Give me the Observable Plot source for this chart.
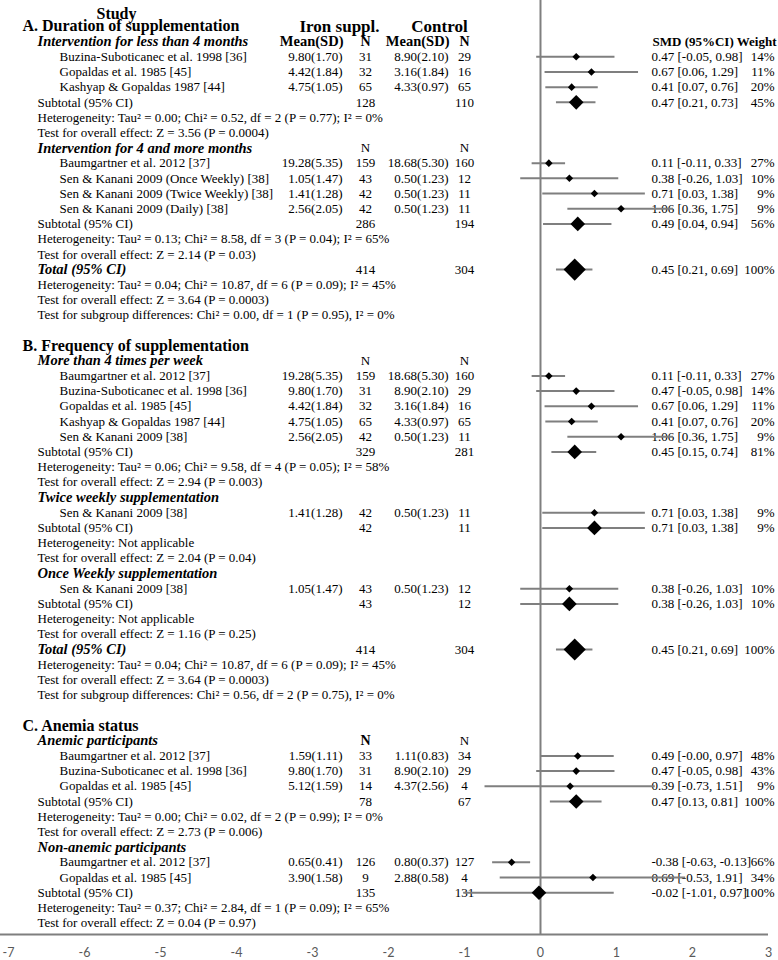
<!DOCTYPE html>
<html><head><meta charset="utf-8">
<script src="https://cdn.jsdelivr.net/npm/d3@7"></script>
<script src="https://cdn.jsdelivr.net/npm/@observablehq/plot@0.6"></script>
<style>body{margin:0;background:#fff}</style>
</head><body><div id="chart"></div>
<script>
// ---------- DATA ----------
const rowLabels = [
 "A. Duration of supplementation",
 "Intervention for less than 4 months",
 "Buzina-Suboticanec et al. 1998 [36]",
 "Gopaldas et al. 1985 [45]",
 "Kashyap & Gopaldas 1987 [44]",
 "Subtotal (95% CI)",
 "Heterogeneity: Tau² = 0.00; Chi² = 0.52, df = 2 (P = 0.77); I² = 0%",
 "Test for overall effect: Z = 3.56 (P = 0.0004)",
 "Intervention for 4 and more months",
 "Baumgartner et al. 2012 [37]",
 "Sen & Kanani 2009 (Once Weekly) [38]",
 "Sen & Kanani 2009 (Twice Weekly) [38]",
 "Sen & Kanani 2009 (Daily) [38]",
 "Subtotal (95% CI)",
 "Heterogeneity: Tau² = 0.13; Chi² = 8.58, df = 3 (P = 0.04); I² = 65%",
 "Test for overall effect: Z = 2.14 (P = 0.03)",
 "Total (95% CI)",
 "Heterogeneity: Tau² = 0.04; Chi² = 10.87, df = 6 (P = 0.09); I² = 45%",
 "Test for overall effect: Z = 3.64 (P = 0.0003)",
 "Test for subgroup differences: Chi² = 0.00, df = 1 (P = 0.95), I² = 0%",
 "",
 "B. Frequency of supplementation",
 "More than 4 times per week",
 "Baumgartner et al. 2012 [37]",
 "Buzina-Suboticanec et al. 1998 [36]",
 "Gopaldas et al. 1985 [45]",
 "Kashyap & Gopaldas 1987 [44]",
 "Sen & Kanani 2009 [38]",
 "Subtotal (95% CI)",
 "Heterogeneity: Tau² = 0.06; Chi² = 9.58, df = 4 (P = 0.05); I² = 58%",
 "Test for overall effect: Z = 2.94 (P = 0.003)",
 "Twice weekly supplementation",
 "Sen & Kanani 2009 [38]",
 "Subtotal (95% CI)",
 "Heterogeneity: Not applicable",
 "Test for overall effect: Z = 2.04 (P = 0.04)",
 "Once Weekly supplementation",
 "Sen & Kanani 2009 [38]",
 "Subtotal (95% CI)",
 "Heterogeneity: Not applicable",
 "Test for overall effect: Z = 1.16 (P = 0.25)",
 "Total (95% CI)",
 "Heterogeneity: Tau² = 0.04; Chi² = 10.87, df = 6 (P = 0.09); I² = 45%",
 "Test for overall effect: Z = 3.64 (P = 0.0003)",
 "Test for subgroup differences: Chi² = 0.56, df = 2 (P = 0.75), I² = 0%",
 "",
 "C. Anemia status",
 "Anemic participants",
 "Baumgartner et al. 2012 [37]",
 "Buzina-Suboticanec et al. 1998 [36]",
 "Gopaldas et al. 1985 [45]",
 "Subtotal (95% CI)",
 "Heterogeneity: Tau² = 0.00; Chi² = 0.02, df = 2 (P = 0.99); I² = 0%",
 "Test for overall effect: Z = 2.73 (P = 0.006)",
 "Non-anemic participants",
 "Baumgartner et al. 2012 [37]",
 "Gopaldas et al. 1985 [45]",
 "Subtotal (95% CI)",
 "Heterogeneity: Tau² = 0.37; Chi² = 2.84, df = 1 (P = 0.09); I² = 65%",
 "Test for overall effect: Z = 0.04 (P = 0.97)"
];
const rowKinds = [
 "section","group","study","study","study","sub","note","note",
 "group","study","study","study","study","sub","note","note",
 "total","note","note","note","blank",
 "section","group","study","study","study","study","study","sub","note","note",
 "group","study","sub","note","note",
 "group","study","sub","note","note",
 "total","note","note","note","blank",
 "section","group","study","study","study","sub","note","note",
 "group","study","study","sub","note","note"
];
// effect rows (studies, subtotals, totals) in order of appearance
const ironMean = [9.80,4.42,4.75,null, 19.28,1.05,1.41,2.56,null, null, 19.28,9.80,4.42,4.75,2.56,null, 1.41,null, 1.05,null, null, 1.59,9.80,5.12,null, 0.65,3.90,null];
const ironSD   = [1.70,1.84,1.05,null, 5.35,1.47,1.28,2.05,null, null, 5.35,1.70,1.84,1.05,2.05,null, 1.28,null, 1.47,null, null, 1.11,1.70,1.59,null, 0.41,1.58,null];
const ironN    = [31,32,65,128, 159,43,42,42,286, 414, 159,31,32,65,42,329, 42,42, 43,43, 414, 33,31,14,78, 126,9,135];
const ctrlMean = [8.90,3.16,4.33,null, 18.68,0.50,0.50,0.50,null, null, 18.68,8.90,3.16,4.33,0.50,null, 0.50,null, 0.50,null, null, 1.11,8.90,4.37,null, 0.80,2.88,null];
const ctrlSD   = [2.10,1.84,0.97,null, 5.30,1.23,1.23,1.23,null, null, 5.30,2.10,1.84,0.97,1.23,null, 1.23,null, 1.23,null, null, 0.83,2.10,2.56,null, 0.37,0.58,null];
const ctrlN    = [29,16,65,110, 160,12,11,11,194, 304, 160,29,16,65,11,281, 11,11, 12,12, 304, 34,29,4,67, 127,4,131];
const smd      = [0.47,0.67,0.41,0.47, 0.11,0.38,0.71,1.06,0.49, 0.45, 0.11,0.47,0.67,0.41,1.06,0.45, 0.71,0.71, 0.38,0.38, 0.45, 0.49,0.47,0.39,0.47, -0.38,0.69,-0.02];
const ciLow    = [-0.05,0.06,0.07,0.21, -0.11,-0.26,0.03,0.36,0.04, 0.21, -0.11,-0.05,0.06,0.07,0.36,0.15, 0.03,0.03, -0.26,-0.26, 0.21, -0.00,-0.05,-0.73,0.13, -0.63,-0.53,-1.01];
const ciHigh   = [0.98,1.29,0.76,0.73, 0.33,1.03,1.38,1.75,0.94, 0.69, 0.33,0.98,1.29,0.76,1.75,0.74, 1.38,1.38, 1.03,1.03, 0.69, 0.97,0.98,1.51,0.81, -0.13,1.91,0.97];
const weight   = [14,11,20,45, 27,10,9,9,56, 100, 27,14,11,20,9,81, 9,9, 10,10, 100, 48,43,9,100, 66,34,100];
// column headers in each subgroup row
const groupIronHead = ["N","N","N","","","N",""];
const groupCtrlHead = ["N","N","N","","","N",""];
const topHeaders = ["Study","Iron suppl.","Control"];
const colHeaders = ["Mean(SD)","N","Mean(SD)","N","SMD (95%CI) Weight"];
const xTicks = [-7,-6,-5,-4,-3,-2,-1,0,1,2,3];

// ---------- LAYOUT ----------
const W = 778, H = 960;
const serif = "'Liberation Serif','Times New Roman',serif";
const col = {section:22, group:37, study:59, ironMean:342, ironN:365, ctrlMean:448, ctrlN:464, smd:651, weight:774};
const ironHeadBold = [true,false,false,false,false,true,false];
const ctrlHeadBold = [true,false,false,false,false,false,false];
const yDomain = [-0.7, 60.75];
const grey = "#7f7f7f";

// ---------- BUILD TABLE ----------
const fmt2 = v => ((v < 0 || Object.is(v, -0)) ? "-" : "") + Math.abs(v).toFixed(2);
let ei = 0, gi = 0;
const rows = rowLabels.map((label, i) => {
  const r = {row: i + 1, label, kind: rowKinds[i]};
  if (["study","sub","total"].includes(r.kind)) {
    const k = ei++;
    Object.assign(r, {
      ironMS: ironMean[k] == null ? "" : `${ironMean[k].toFixed(2)}(${ironSD[k].toFixed(2)})`,
      ironN: ironN[k],
      ctrlMS: ctrlMean[k] == null ? "" : `${ctrlMean[k].toFixed(2)}(${ctrlSD[k].toFixed(2)})`,
      ctrlN: ctrlN[k],
      smd: smd[k], lo: ciLow[k], hi: ciHigh[k],
      smdText: `${fmt2(smd[k])} [${fmt2(ciLow[k])}, ${fmt2(ciHigh[k])}]`,
      wText: `${weight[k]}%`
    });
  }
  if (r.kind === "group") {
    const g = gi++;
    Object.assign(r, {g, ironHead: groupIronHead[g], ctrlHead: groupCtrlHead[g],
      ironBold: ironHeadBold[g], ctrlBold: ctrlHeadBold[g]});
  }
  return r;
});
const effects = rows.filter(d => d.smd !== undefined);
const groups = rows.filter(d => d.kind === "group");

const T = (data, o) => Plot.text(data, {y: "row", frameAnchor: "left", fontFamily: serif, fontSize: 13, fill: "#000", ...o});
const labelStyle = {
  section: {dx: col.section, fontWeight: "bold", fontSize: 16},
  group: {dx: col.group, fontWeight: "bold", fontStyle: "italic", fontSize: 14.5},
  study: {dx: col.study},
  sub: {dx: col.group},
  note: {dx: col.group},
  total: {dx: col.group, fontWeight: "bold", fontStyle: "italic", fontSize: 14.5}
};
const labelMarks = Object.entries(labelStyle).map(([k, s]) =>
  T(rows.filter(d => d.kind === k), {text: "label", textAnchor: "start", ...s}));

const headRow = rows.find(d => d.kind === "group").row;

const chart = Plot.plot({
  width: W, height: H,
  marginLeft: 0, marginRight: 10, marginTop: 0, marginBottom: H - 934,
  x: {domain: [-7.105, 3], range: [0, 768]},
  y: {domain: yDomain, range: [0, 934], axis: null},
  marks: [
    Plot.ruleX([0], {stroke: grey, strokeWidth: 2}),
    Plot.ruleY([yDomain[1]], {stroke: grey, strokeWidth: 2}),
    Plot.axisX({ticks: xTicks, tickFormat: d => String(d), tickSize: 0, tickPadding: 14, fontSize: 12.5, color: "#595959",
      fontFamily: "Lato, 'Open Sans', sans-serif", label: null}),
    // top headers
    Plot.text([topHeaders[0]], {y: [0.2], text: d => d, frameAnchor: "left", dx: 116, textAnchor: "middle", fontFamily: serif, fontWeight: "bold", fontSize: 16}),
    Plot.text([topHeaders[1]], {y: [1], text: d => d, frameAnchor: "left", dx: 339, textAnchor: "middle", fontFamily: serif, fontWeight: "bold", fontSize: 17}),
    Plot.text([topHeaders[2]], {y: [1], text: d => d, frameAnchor: "left", dx: 439, textAnchor: "middle", fontFamily: serif, fontWeight: "bold", fontSize: 17}),
    // column headers in first subgroup row
    Plot.text([colHeaders[0]], {y: [headRow], text: d => d, frameAnchor: "left", dx: col.ironMean + 1, textAnchor: "end", fontFamily: serif, fontWeight: "bold", fontSize: 14.5}),
    Plot.text([colHeaders[2]], {y: [headRow], text: d => d, frameAnchor: "left", dx: col.ctrlMean + 1, textAnchor: "end", fontFamily: serif, fontWeight: "bold", fontSize: 14.5}),
    Plot.text([colHeaders[4]], {y: [headRow], text: d => d, frameAnchor: "left", dx: col.smd + 1, textAnchor: "start", fontFamily: serif, fontWeight: "bold", fontSize: 13}),
    // N headers in subgroup rows
    T(groups.filter(d => d.ironBold), {text: "ironHead", dx: col.ironN, textAnchor: "middle", fontWeight: "bold", fontSize: 14}),
    T(groups.filter(d => !d.ironBold), {text: "ironHead", dx: col.ironN, textAnchor: "middle"}),
    T(groups.filter(d => d.ctrlBold), {text: "ctrlHead", dx: col.ctrlN, textAnchor: "middle", fontWeight: "bold", fontSize: 14}),
    T(groups.filter(d => !d.ctrlBold), {text: "ctrlHead", dx: col.ctrlN, textAnchor: "middle"}),
    // row labels
    ...labelMarks,
    // numeric columns
    T(effects, {text: "ironMS", dx: col.ironMean, textAnchor: "end"}),
    T(effects, {text: "ironN", dx: col.ironN, textAnchor: "middle"}),
    T(effects, {text: "ctrlMS", dx: col.ctrlMean, textAnchor: "end"}),
    T(effects, {text: "ctrlN", dx: col.ctrlN, textAnchor: "middle"}),
    T(effects, {text: "smdText", dx: col.smd, textAnchor: "start"}),
    T(effects, {text: "wText", dx: col.weight, textAnchor: "end"}),
    // forest
    Plot.ruleY(effects, {y: "row", x1: "lo", x2: "hi", stroke: grey, strokeWidth: 2}),
    Plot.dot(effects.filter(d => d.kind === "study"), {x: "smd", y: "row", symbol: "diamond2", r: 3.4, fill: "#000", stroke: "none"}),
    Plot.dot(effects.filter(d => d.kind === "sub"), {x: "smd", y: "row", symbol: "diamond2", r: 6.6, fill: "#000", stroke: "none"}),
    Plot.dot(effects.filter(d => d.kind === "total"), {x: "smd", y: "row", symbol: "diamond2", r: 10, fill: "#000", stroke: "none"})
  ]
});
document.getElementById("chart").appendChild(chart);
</script>
</body></html>
